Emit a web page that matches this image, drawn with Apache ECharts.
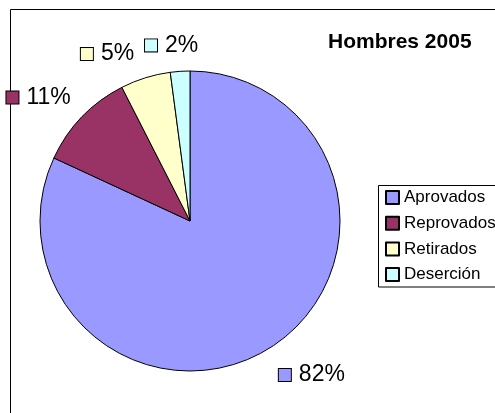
<!DOCTYPE html>
<html>
<head>
<meta charset="utf-8">
<script src="https://cdn.jsdelivr.net/npm/echarts@6/dist/echarts.min.js"></script>
<style>html,body{margin:0;padding:0;background:#fff;}#c{width:495px;height:413px;}</style>
</head>
<body>
<div id="c"></div>
<script>
var categories = ['Aprovados', 'Reprovados', 'Retirados', 'Deserción'];
var values = [81.9, 10.6, 5.4, 2.1];
var colors = ['#9999FF', '#993366', '#FFFFCC', '#CCFFFF'];
var titleText = 'Hombres 2005';

var FONT = '"Liberation Sans", Arial, sans-serif';
var rich = { g: { width: 8 } };
colors.forEach(function (c, i) {
  rich['m' + i] = { width: 12, height: 12, backgroundColor: c, borderColor: '#000', borderWidth: 1 };
});
var nudges = [[-7, 4], [9, 0], [-3, 3], [20, 2]];

var chart = echarts.init(document.getElementById('c'), null, { renderer: 'canvas' });
chart.setOption({
  animation: false,
  backgroundColor: '#fff',
  title: {
    text: titleText, left: 328, top: 32, padding: 0,
    textStyle: { fontSize: 21, fontWeight: 'bold', color: '#000', fontFamily: FONT, lineHeight: 21 }
  },
  legend: {
    orient: 'vertical', left: 378, top: 185,
    padding: [4, 0, 3, 7],
    itemWidth: 13, itemHeight: 13, itemGap: 8.7,
    icon: 'rect',
    textStyle: { fontSize: 17, lineHeight: 17, color: '#000', fontFamily: FONT },
    data: categories
  },
  graphic: [{
    type: 'rect', silent: true, z: -1,
    shape: { x: 10.5, y: 9.5, width: 1000, height: 1000 },
    style: { fill: 'none', stroke: '#000', lineWidth: 1 }
  }, {
    type: 'rect', silent: true, z: -1,
    shape: { x: 378.5, y: 185.5, width: 300, height: 101.5 },
    style: { fill: 'none', stroke: '#000', lineWidth: 1 }
  }],
  series: [{
    type: 'pie',
    center: [190, 221],
    radius: 150,
    startAngle: 90,
    clockwise: true,
    avoidLabelOverlap: false,
    emphasis: { disabled: true },
    itemStyle: { borderColor: '#000', borderWidth: 1 },
    label: {
      show: true, position: 'outside',
      distanceToLabelLine: 0,
      fontSize: 23, color: '#000', fontFamily: FONT,
      formatter: function (p) { return '{m' + p.dataIndex + '|}{g|}' + Math.round(p.percent) + '%'; },
      rich: rich
    },
    labelLine: { show: false, length: 28, length2: 0 },
    labelLayout: function (p) { var n = nudges[p.dataIndex]; return { dx: n[0], dy: n[1] }; },
    data: categories.map(function (c, i) {
      return { name: c, value: values[i], itemStyle: { color: colors[i] } };
    })
  }]
});
</script>
</body>
</html>
